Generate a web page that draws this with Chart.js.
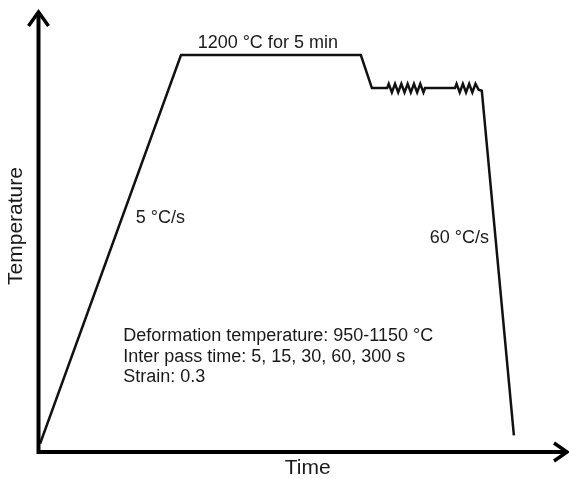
<!DOCTYPE html>
<html>
<head>
<meta charset="utf-8">
<script src="https://cdn.jsdelivr.net/npm/chart.js@4/dist/chart.umd.min.js"></script>
<style>
html,body{margin:0;padding:0;background:#fff;}
#wrap{width:569px;height:479px;position:relative;}
</style>
</head>
<body>
<div id="wrap"><canvas id="c" width="569" height="479"></canvas></div>
<script>
// Schematic thermal schedule (time in arbitrary units, temperature in °C)
const timeValues = [0.2, 27.0, 61.2, 63.3, 66.2,
  66.5, 67.1, 67.7, 68.3, 68.9, 69.5, 70.1, 70.7, 71.3, 71.9, 72.5, 73.1, 73.4,
  79.1,
  79.4, 80.0, 80.6, 81.2, 81.8, 82.4, 83.0, 83.6, 84.2,
  90.3];
const tempValues = [25, 1200, 1200, 1100, 1100,
  1113, 1087, 1113, 1087, 1113, 1087, 1113, 1087, 1113, 1087, 1113, 1087, 1100,
  1100,
  1113, 1087, 1113, 1087, 1113, 1087, 1113, 1095, 1092,
  50];
const axisTitles = {x: 'Time', y: 'Temperature'};
const labels = [
  {text: '1200 °C for 5 min', x: 43.5, y: 1236, align: 'center'},
  {text: '5 °C/s', x: 18.4, y: 707, align: 'left'},
  {text: '60 °C/s', x: 74.3, y: 647, align: 'left'},
  {text: 'Deformation temperature: 950-1150 °C', x: 16.0, y: 351, align: 'left'},
  {text: 'Inter pass time: 5, 15, 30, 60, 300 s', x: 16.0, y: 288, align: 'left'},
  {text: 'Strain: 0.3', x: 16.0, y: 227, align: 'left'}
];

const points = timeValues.map((t, i) => ({x: t, y: tempValues[i]}));

const schematicPlugin = {
  id: 'schematic',
  afterDraw(chart) {
    const ctx = chart.ctx;
    const xs = chart.scales.x, ys = chart.scales.y;
    const x0 = xs.getPixelForValue(xs.min) - 0.5;
    const y0 = ys.getPixelForValue(ys.min);
    const xEnd = xs.getPixelForValue(xs.max);
    const yTop = ys.getPixelForValue(ys.max);
    ctx.save();
    ctx.strokeStyle = '#000';
    ctx.lineWidth = 4;
    ctx.lineCap = 'butt';
    ctx.beginPath();
    ctx.moveTo(x0, yTop + 2);
    ctx.lineTo(x0, y0 + 2);
    ctx.moveTo(x0 - 2, y0);
    ctx.lineTo(xEnd, y0);
    ctx.stroke();
    // arrowheads
    ctx.lineWidth = 3.5;
    ctx.lineJoin = 'miter';
    ctx.beginPath();
    ctx.moveTo(x0 - 10, yTop + 16);
    ctx.lineTo(x0, yTop + 2);
    ctx.lineTo(x0 + 10, yTop + 16);
    ctx.stroke();
    ctx.beginPath();
    ctx.moveTo(xEnd - 13, y0 - 9);
    ctx.lineTo(xEnd, y0);
    ctx.lineTo(xEnd - 13, y0 + 9);
    ctx.stroke();
    // annotations
    ctx.fillStyle = '#1a1a1a';
    ctx.font = '18px "Liberation Sans", Arial, sans-serif';
    ctx.textBaseline = 'middle';
    labels.forEach(l => {
      ctx.textAlign = l.align;
      ctx.fillText(l.text, xs.getPixelForValue(l.x), ys.getPixelForValue(l.y));
    });
    // axis titles
    ctx.font = '21px "Liberation Sans", Arial, sans-serif';
    ctx.textAlign = 'center';
    ctx.fillText(axisTitles.x, (x0 + xEnd) / 2 + 5, y0 + 16);
    ctx.save();
    ctx.translate(16, (yTop + y0) / 2 - 5);
    ctx.rotate(-Math.PI / 2);
    ctx.fillText(axisTitles.y, 0, 0);
    ctx.restore();
    ctx.restore();
  }
};

new Chart(document.getElementById('c'), {
  type: 'scatter',
  data: {
    datasets: [{
      data: points,
      showLine: true,
      borderColor: '#111',
      borderWidth: 2.5,
      pointRadius: 0,
      tension: 0,
      fill: false
    }]
  },
  options: {
    responsive: false,
    animation: false,
    layout: {padding: {left: 39, right: 2, top: 10, bottom: 27}},
    plugins: {legend: {display: false}, tooltip: {enabled: false}},
    scales: {
      x: {type: 'linear', display: false, min: 0, max: 100.4},
      y: {type: 'linear', display: false, min: 0, max: 1336}
    }
  },
  plugins: [schematicPlugin]
});
</script>
</body>
</html>
